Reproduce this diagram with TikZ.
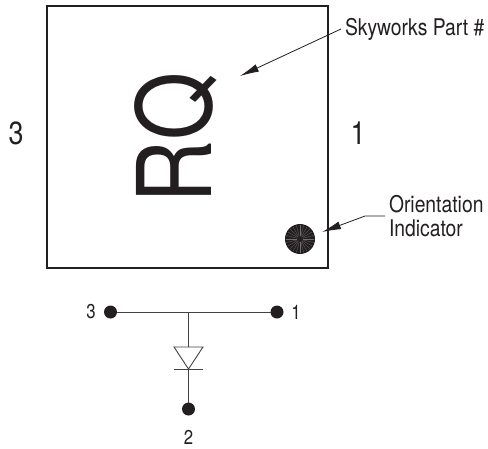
\documentclass[tikz,border=0pt]{standalone}
\usepackage{fontspec}
\setmainfont{TeX Gyre Heros}
\newfontfamily\cond[FakeStretch=0.84]{TeX Gyre Heros}
\newfontfamily\condb[FakeStretch=0.85]{TeX Gyre Heros}
\usetikzlibrary{arrows.meta}
\definecolor{ink}{HTML}{231F20}
\begin{document}
\begin{tikzpicture}[x=1pt,y=-1pt,
  every node/.style={text=ink,inner sep=0pt,outer sep=0pt},
  lbl/.style={font=\cond\fontsize{23}{25}\selectfont,anchor=west,align=left},
  big/.style={font=\cond\fontsize{32}{34}\selectfont},
  pin/.style={font=\cond\fontsize{20}{22}\selectfont},
  term/.style={circle,fill=ink,minimum size=13pt},
  wire/.style={draw=ink!85,line width=0.9pt},
  leader/.style={draw=ink,line width=0.8pt,-{Latex[length=19pt,width=8pt]}}]
\useasboundingbox (0,0) rectangle (488,448);
\node[draw=ink,line width=1.6pt,minimum width=281pt,minimum height=262pt] (pkg) at (187.5,137) {};
\node[font=\condb\fontsize{103}{110}\selectfont,rotate=90] (mark) at (176,138) {RQ};
\node[lbl] (part) at (345,29) {Skyworks Part \#};
\node[lbl,font=\cond\fontsize{23}{24}\selectfont] (orient) at (389,216) {Orientation\\Indicator};
\node[big] (p3) at (16,133) {3};
\node[big] (p1) at (358,133) {1};
\node[circle,fill=ink,minimum size=30pt] (dot) at (300,239) {};
\foreach \a in {0,15,...,345}{
  \draw[white!35!ink,line width=0.25pt] (dot.center) ++(\a:3pt) -- ++(\a:11pt);
}
\coordinate (parttail) at (341,29);
\coordinate (parttip) at (240,76);
\draw[leader] (parttail) -- (parttip);
\coordinate (ortail) at (385,216);
\coordinate (orbend) at (365,216);
\coordinate (ortip) at (322,232);
\draw[leader] (ortail) -- (orbend) -- (ortip);
\node[term] (t3) at (110.5,312) {};
\node[term] (t1) at (277,312) {};
\node[term] (t2) at (188.5,409) {};
\node[pin] (l3) at (91,312) {3};
\node[pin] (l1) at (296,312) {1};
\node[pin] (l2) at (188.5,437) {2};
\coordinate (junc) at (188.5,312);
\coordinate (dtop) at (188.5,347);
\coordinate (dtip) at (188.5,369);
\draw[wire] (t3) -- (t1);
\draw[wire] (junc) -- (dtop);
\draw[wire,line join=miter] (174,347) -- (203,347) -- (dtip) -- cycle;
\draw[wire] (174,369) -- (203,369);
\draw[wire] (dtip) -- (t2);
\end{tikzpicture}
\end{document}
